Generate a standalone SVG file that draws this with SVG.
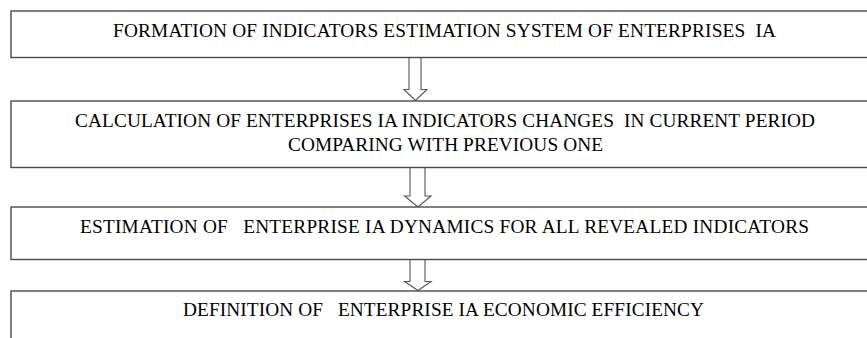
<svg xmlns="http://www.w3.org/2000/svg" width="867" height="338" viewBox="0 0 867 338">
<style>
.box{fill:#fff;stroke:#4a4a4a;stroke-width:1.4}
.arr{fill:#fff;stroke:#555;stroke-width:1.1;stroke-linejoin:miter}
.t{font-family:"Liberation Serif","Times New Roman",serif;font-size:19.3px;fill:#000;text-anchor:middle}
</style>
<rect width="867" height="338" fill="#fff"/>
<g id="connectors">
<polygon class="arr" points="409,57.5 421,57.5 421,89.5 427,89.5 415.5,100.5 404,89.5 409,89.5"/>
<polygon class="arr" points="410,167.5 425,167.5 425,196 431,196 418,207 404.5,196 410,196"/>
<polygon class="arr" points="410,259.5 425,259.5 425,281.5 431,281.5 418,290.5 404.5,281.5 410,281.5"/>
</g>
<g id="node1">
<rect class="box" x="11" y="11" width="880" height="46.5"/>
<text class="t" x="444.5" y="36.5" textLength="663" lengthAdjust="spacing" xml:space="preserve">FORMATION OF INDICATORS ESTIMATION SYSTEM OF ENTERPRISES  IA</text>
</g>
<g id="node2">
<rect class="box" x="11" y="101" width="880" height="66.5"/>
<text class="t" x="445" y="127" textLength="740" lengthAdjust="spacing" xml:space="preserve">CALCULATION OF ENTERPRISES IA INDICATORS CHANGES  IN CURRENT PERIOD</text>
<text class="t" x="445.5" y="150.5" textLength="315" lengthAdjust="spacing">COMPARING WITH PREVIOUS ONE</text>
</g>
<g id="node3">
<rect class="box" x="11" y="207" width="880" height="52.5"/>
<text class="t" x="444.5" y="233" textLength="729" lengthAdjust="spacing" xml:space="preserve">ESTIMATION OF   ENTERPRISE IA DYNAMICS FOR ALL REVEALED INDICATORS</text>
</g>
<g id="node4">
<rect class="box" x="11" y="291" width="880" height="80"/>
<text class="t" x="443.5" y="316" textLength="521" lengthAdjust="spacing" xml:space="preserve">DEFINITION OF   ENTERPRISE IA ECONOMIC EFFICIENCY</text>
</g>
</svg>
